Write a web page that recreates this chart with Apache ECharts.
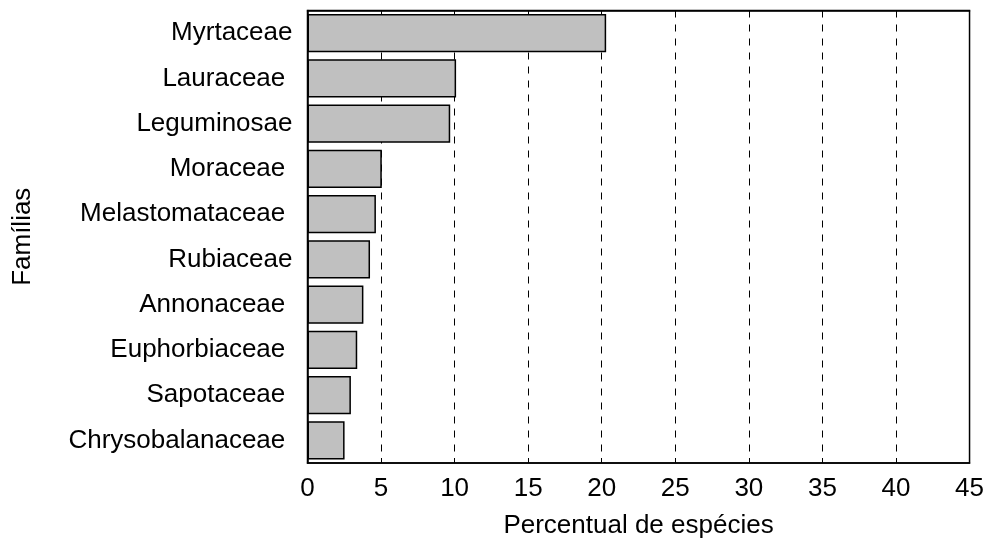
<!DOCTYPE html>
<html>
<head>
<meta charset="utf-8">
<script src="https://cdn.jsdelivr.net/npm/echarts@6/dist/echarts.min.js"></script>
<style>html,body{margin:0;padding:0;background:#fff}#c{width:987px;height:545px}</style>
</head>
<body>
<div id="c"></div>
<script>
const families = ["Myrtaceae", "Lauraceae ", "Leguminosae", "Moraceae ", "Melastomataceae ", "Rubiaceae", "Annonaceae ", "Euphorbiaceae ", "Sapotaceae ", "Chrysobalanaceae "];
const percents = [20.3, 10.1, 9.7, 5.05, 4.65, 4.25, 3.8, 3.38, 2.95, 2.52];
const xTicks = [0, 5, 10, 15, 20, 25, 30, 35, 40, 45];
const xName = "Percentual de espécies";
const yName = "Famílias";

const chart = echarts.init(document.getElementById('c'), null, {renderer: 'canvas'});
const font = "Liberation Sans, Arial, sans-serif";
chart.setOption({
  animation: false,
  grid: {left: 307.5, right: 16, top: 10.5, bottom: 82, show: true, borderColor: '#000', borderWidth: 1.5, containLabel: false},
  xAxis: [{
    type: 'value', min: xTicks[0], max: xTicks[xTicks.length - 1], interval: 5,
    position: 'bottom',
    name: xName, nameLocation: 'middle', nameGap: 50,
    nameTextStyle: {fontFamily: font, fontSize: 26, color: '#000'},
    axisLine: {show: true, lineStyle: {color: '#000', width: 1.5}},
    axisTick: {show: true, inside: true, length: 5, lineStyle: {color: '#000'}},
    axisLabel: {fontFamily: font, fontSize: 26, color: '#000', margin: 13},
    splitLine: {show: true, lineStyle: {color: '#000', type: [7, 7], width: 1}}
  }, {
    type: 'value', min: xTicks[0], max: xTicks[xTicks.length - 1], interval: 5,
    position: 'top',
    axisLine: {show: true, lineStyle: {color: '#000', width: 1.5}},
    axisTick: {show: true, inside: true, length: 4, lineStyle: {color: '#000'}},
    axisLabel: {show: false},
    splitLine: {show: false}
  }],
  yAxis: {
    type: 'category', data: families, inverse: true,
    name: yName, nameLocation: 'middle', nameGap: 272, nameRotate: 90,
    nameTextStyle: {fontFamily: font, fontSize: 26, color: '#000'},
    axisLine: {show: true, lineStyle: {color: '#000', width: 1.5}},
    axisTick: {show: false},
    axisLabel: {fontFamily: font, fontSize: 26, color: '#000', margin: 15},
    splitLine: {show: false}
  },
  series: [{
    type: 'bar', data: percents, xAxisIndex: 0,
    barCategoryGap: '15%',
    itemStyle: {color: '#c0c0c0', borderColor: '#000', borderWidth: 1.5},
    z: 3
  }]
});
</script>
</body>
</html>
